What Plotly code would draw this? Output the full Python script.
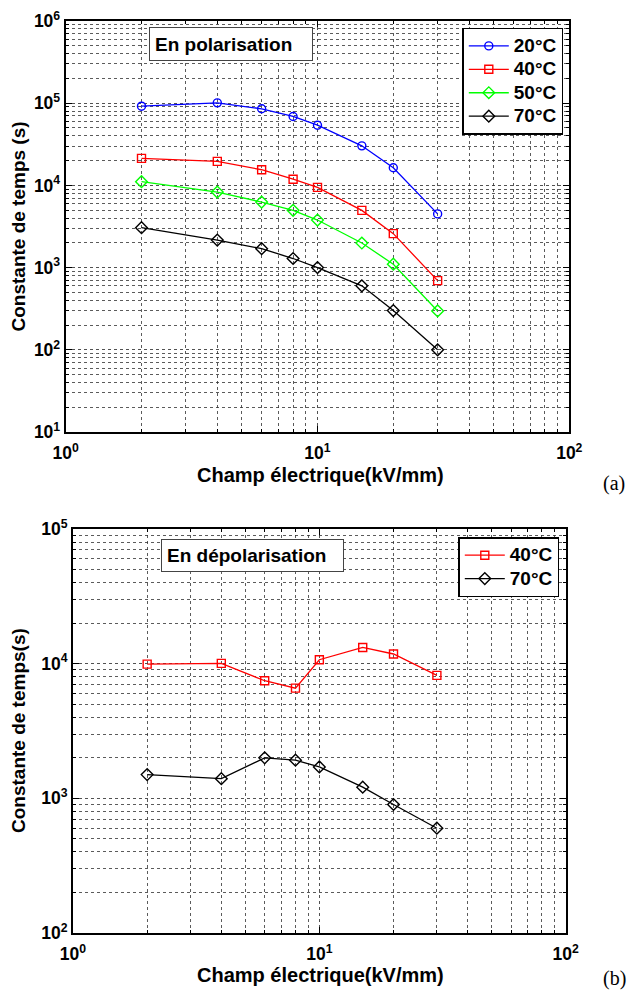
import plotly.graph_objects as go

# ---------------- data ----------------
field = [2, 4, 6, 8, 10, 15, 20, 30]

pol_20 = [92000, 101000, 85500, 69000, 54000, 30300, 16400, 4500]
pol_40 = [21300, 19600, 15500, 11900, 9450, 4970, 2590, 695]
pol_50 = [11100, 8300, 6270, 4970, 3790, 1990, 1100, 297]
pol_70 = [3060, 2160, 1700, 1290, 1000, 600, 300, 100]

dep_40 = [9930, 10050, 7470, 6580, 10700, 13200, 11800, 8180]
dep_70 = [1500, 1400, 2000, 1920, 1710, 1210, 900, 600]

labels_pol = ["20°C", "40°C", "50°C", "70°C"]
labels_dep = ["40°C", "70°C"]

x_decades = [0, 1, 2]
y_decades_top = [1, 2, 3, 4, 5, 6]
y_decades_bot = [2, 3, 4, 5]

W, H = 627, 991
FONT = "Liberation Sans"


def px_x(p):
    return p / W


def px_y(p):
    return 1 - p / H


def decade_ticks(exps):
    vals = [10 ** e for e in exps]
    text = [f"<b>10<sup>{e}</sup></b>" for e in exps]
    minor = [k * 10 ** e for e in exps[:-1] for k in range(2, 10)]
    return vals, text, minor


def legend_name(s):
    return f'<span style="font-size:19px">{s}</span>'


fig = go.Figure()

line_w = 1.3
styles = {
    "20°C": dict(color="#0000FF", symbol="circle-open", size=8),
    "40°C": dict(color="#FF0000", symbol="square-open", size=8),
    "50°C": dict(color="#00FF00", symbol="diamond-open", size=9),
    "70°C": dict(color="#000000", symbol="diamond-open", size=9),
}

for name, vals in zip(labels_pol, [pol_20, pol_40, pol_50, pol_70]):
    st = styles[name]
    fig.add_trace(go.Scatter(
        x=field, y=vals, mode="lines+markers", name=legend_name(name),
        line=dict(color=st["color"], width=line_w),
        marker=dict(symbol=st["symbol"], size=st["size"], color=st["color"],
                    line=dict(color=st["color"], width=1.4)),
        xaxis="x", yaxis="y", legend="legend",
    ))

for name, vals in zip(labels_dep, [dep_40, dep_70]):
    st = styles[name]
    fig.add_trace(go.Scatter(
        x=field, y=vals, mode="lines+markers", name=legend_name(name),
        line=dict(color=st["color"], width=line_w),
        marker=dict(symbol=st["symbol"], size=st["size"], color=st["color"],
                    line=dict(color=st["color"], width=1.4)),
        xaxis="x2", yaxis="y2", legend="legend2",
    ))

xv, xt, xm = decade_ticks(x_decades)
ytv, ytt, ytm = decade_ticks(y_decades_top)
ybv, ybt, ybm = decade_ticks(y_decades_bot)

tickfont = dict(family=FONT, size=17.5, color="black", weight="bold")
major_grid = "rgba(50,50,50,0.85)"
minor_grid = "rgba(50,50,50,0.8)"


def axis(dom, rng, vals, text, minor, anchor, standoff):
    return dict(
        type="log", domain=dom, range=rng, anchor=anchor, automargin=False,
        tickmode="array", tickvals=vals, ticktext=text,
        ticks="inside", ticklen=6, tickwidth=1, tickcolor="black",
        showline=True, linecolor="black", linewidth=2, mirror="allticks",
        showgrid=True, gridcolor=major_grid, gridwidth=1, griddash="dot",
        tickfont=tickfont, ticklabelstandoff=standoff,
        zeroline=False,
        minor=dict(tickmode="array", tickvals=minor, ticks="inside", ticklen=3,
                   tickcolor="black", showgrid=True, gridcolor=minor_grid,
                   gridwidth=1, griddash="dot"),
    )


legend_common = dict(
    xanchor="right", yanchor="top",
    bgcolor="white", bordercolor="black", borderwidth=1.5,
    font=dict(family=FONT, size=15.7, color="black", weight="bold"),
    itemwidth=40, tracegroupgap=0,
)

fig.update_layout(
    template="none",
    width=W, height=H,
    margin=dict(l=0, r=0, t=0, b=0, pad=0, autoexpand=False),
    paper_bgcolor="white", plot_bgcolor="white",
    font=dict(family=FONT, color="black"),
    xaxis=axis([px_x(65.7), px_x(569.3)], [0, 2], xv, xt, xm, "y", 4),
    yaxis=axis([px_y(432), px_y(21)], [1, 6], ytv, ytt, ytm, "x", 0),
    xaxis2=axis([px_x(73), px_x(565.7)], [0, 2], xv, xt, xm, "y2", 4),
    yaxis2=axis([px_y(933), px_y(529)], [2, 5], ybv, ybt, ybm, "x2", 0),
    legend=dict(x=px_x(563.3), y=px_y(27.7), **legend_common),
    legend2=dict(x=px_x(559.3), y=px_y(537), **legend_common),
    showlegend=True,
)

xtitle_font = dict(family=FONT, size=20, color="black", weight="bold")
ytitle_font = dict(family=FONT, size=19, color="black", weight="bold")
box_font = dict(family=FONT, size=19, color="black", weight="bold")
annotations = [
    # axis titles
    dict(text="Champ électrique(kV/mm)", x=px_x(320), y=px_y(474.7),
         xref="paper", yref="paper", showarrow=False, font=xtitle_font,
         xanchor="center", yanchor="middle"),
    dict(text="Champ électrique(kV/mm)", x=px_x(320), y=px_y(975),
         xref="paper", yref="paper", showarrow=False, font=xtitle_font,
         xanchor="center", yanchor="middle"),
    dict(text="Constante de temps (s)", x=px_x(18), y=px_y(226.5),
         xref="paper", yref="paper", showarrow=False, font=ytitle_font,
         textangle=-90, xanchor="center", yanchor="middle"),
    dict(text="Constante de temps(s)", x=px_x(18), y=px_y(731),
         xref="paper", yref="paper", showarrow=False, font=ytitle_font,
         textangle=-90, xanchor="center", yanchor="middle"),
    # boxed labels
    dict(text="En polarisation", x=px_x(149), y=px_y(26.7),
         xref="paper", yref="paper", showarrow=False, font=box_font,
         xanchor="left", yanchor="top", align="left",
         width=152, height=22, borderpad=5, bordercolor="#444",
         borderwidth=1, bgcolor="white"),
    dict(text="En dépolarisation", x=px_x(161), y=px_y(539),
         xref="paper", yref="paper", showarrow=False, font=box_font,
         xanchor="left", yanchor="top", align="left",
         width=171, height=21, borderpad=5, bordercolor="#444",
         borderwidth=1, bgcolor="white"),
    # panel letters
    dict(text="(a)", x=px_x(614), y=px_y(483), xref="paper", yref="paper",
         showarrow=False, font=dict(family="Liberation Serif", size=20, color="black"),
         xanchor="center", yanchor="middle"),
    dict(text="(b)", x=px_x(614), y=px_y(978), xref="paper", yref="paper",
         showarrow=False, font=dict(family="Liberation Serif", size=20, color="black"),
         xanchor="center", yanchor="middle"),
]
fig.update_layout(annotations=annotations)

fig.write_html(
    "out.html",
    config={"displayModeBar": False},
    post_script="document.body.style.margin='0';document.body.style.overflow='hidden';",
)
